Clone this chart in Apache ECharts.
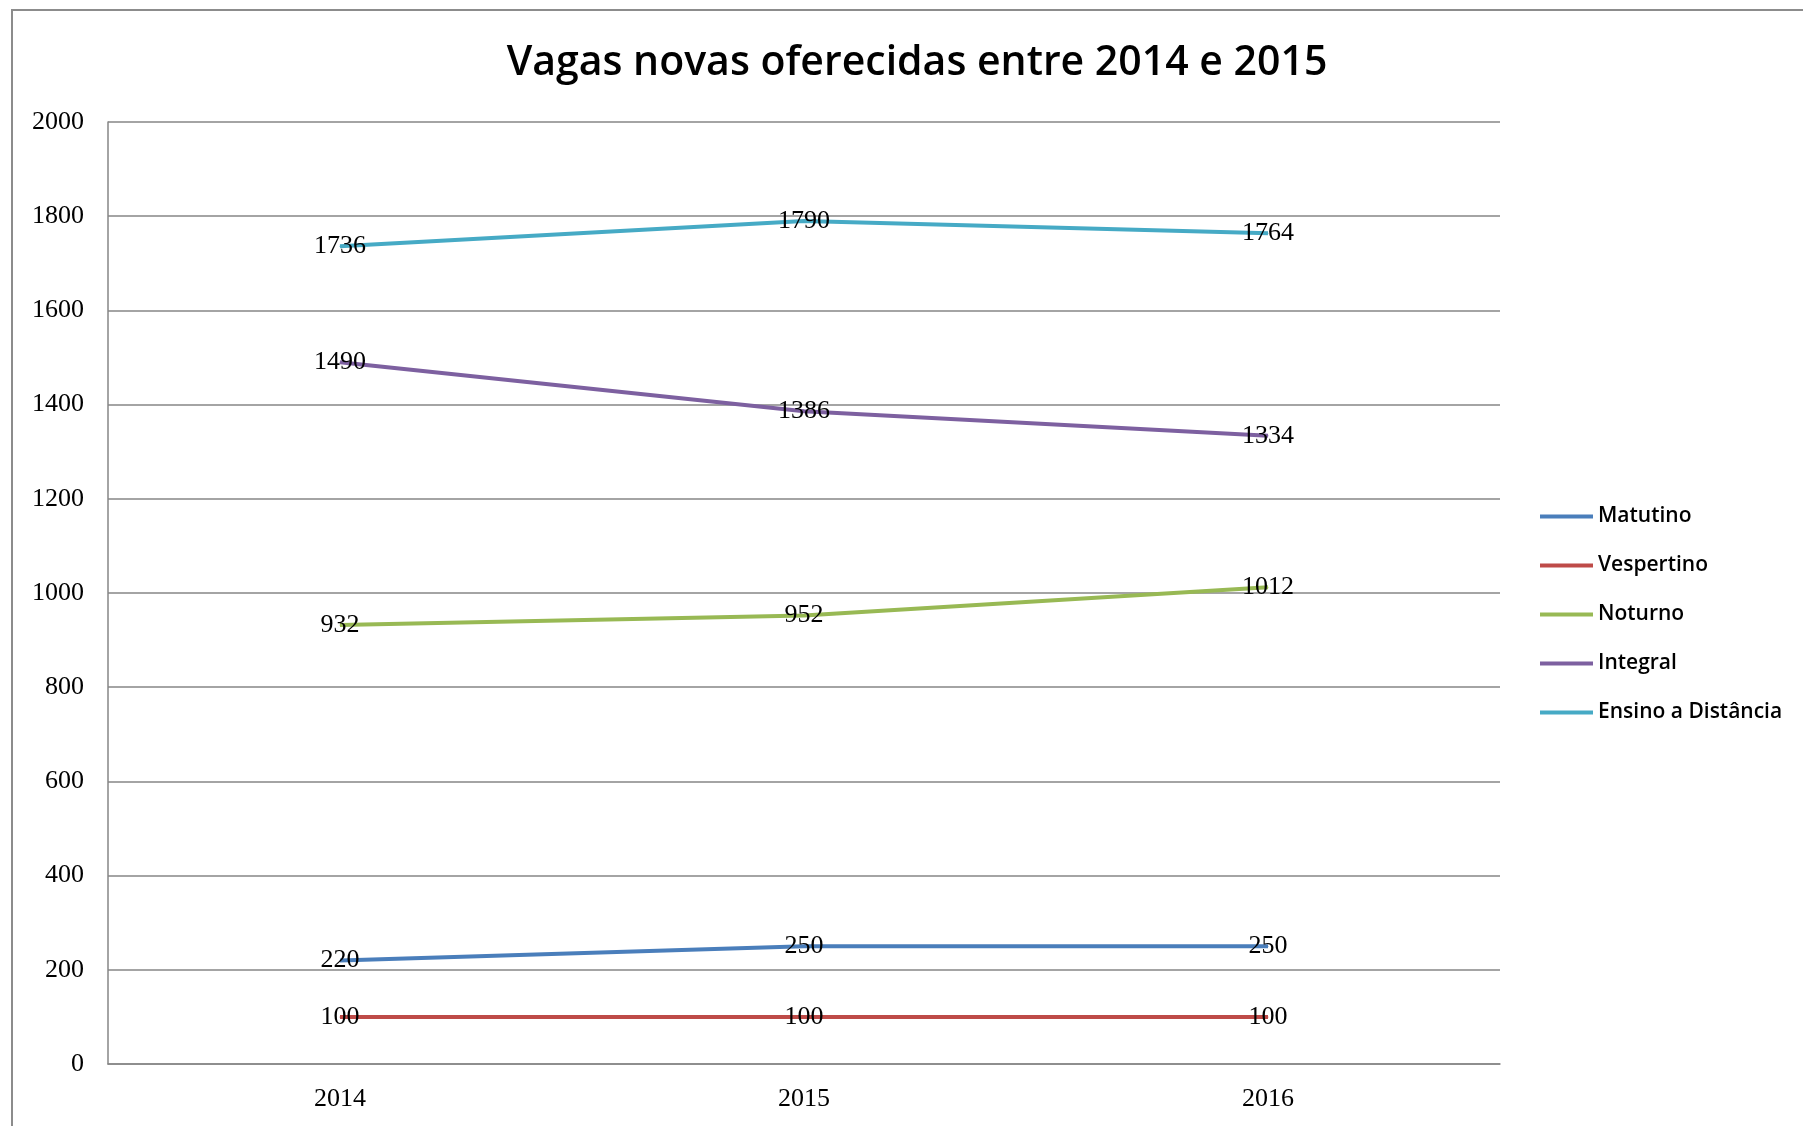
<!DOCTYPE html>
<html>
<head>
<meta charset="utf-8">
<script src="https://cdn.jsdelivr.net/npm/echarts@6/dist/echarts.min.js"></script>
<style>
  html, body { margin: 0; padding: 0; background: #fff; }
  #chart { width: 1803px; height: 1126px; }
</style>
</head>
<body>
<div id="chart"></div>
<script>
var years = ['2014', '2015', '2016']
var seriesNames = ['Matutino', 'Vespertino', 'Noturno', 'Integral', 'Ensino a Distância']
var matutino = [220, 250, 250]
var vespertino = [100, 100, 100]
var noturno = [932, 952, 1012]
var integral = [1490, 1386, 1334]
var distancia = [1736, 1790, 1764]
var colors = ['#4a7ebb', '#be4b48', '#98b954', '#7d60a0', '#46aac5']

var valueFont = 'Liberation Serif'
var chart = echarts.init(document.getElementById('chart'))

function makeSeries(name, data, color) {
  return {
    name: name,
    type: 'line',
    data: data,
    symbol: 'circle',
    symbolSize: 1,
    showSymbol: true,
    itemStyle: { color: color },
    lineStyle: { color: color, width: 4 },
    label: {
      show: true,
      position: 'inside',
      color: '#000',
      fontFamily: valueFont,
      fontSize: 26
    },
    animation: false
  }
}

chart.setOption({
  backgroundColor: '#fff',
  title: {
    text: 'Vagas novas oferecidas entre 2014 e 2015',
    left: 912,
    top: 38,
    textAlign: 'center',
    textStyle: {
      fontFamily: 'Open Sans',
      fontWeight: 600,
      fontSize: 41,
      color: '#000'
    }
  },
  graphic: [{
    type: 'rect',
    shape: { x: 12, y: 10, width: 1820, height: 1140 },
    style: { fill: null, stroke: '#8c8c8c', lineWidth: 2 },
    silent: true,
    z: -1
  }],
  legend: {
    orient: 'vertical',
    left: 1535,
    top: 501,
    itemWidth: 53,
    itemHeight: 4,
    itemGap: 28,
    icon: 'rect',
    data: seriesNames,
    textStyle: {
      fontFamily: 'Open Sans',
      fontWeight: 600,
      fontSize: 21,
      color: '#000',
      padding: [0, 0, 0, 0]
    }
  },
  grid: {
    left: 108,
    right: 303,
    top: 122,
    bottom: 62
  },
  xAxis: {
    type: 'category',
    data: years,
    boundaryGap: true,
    axisTick: { show: false },
    axisLine: { lineStyle: { color: '#868686', width: 1.5 } },
    axisLabel: {
      color: '#000',
      fontFamily: valueFont,
      fontSize: 26,
      margin: 22
    }
  },
  yAxis: {
    type: 'value',
    min: 0,
    max: 2000,
    interval: 200,
    axisTick: { show: false },
    axisLine: { show: true, lineStyle: { color: '#868686', width: 1.5 } },
    splitLine: { lineStyle: { color: '#868686', width: 1.5 } },
    axisLabel: {
      color: '#000',
      fontFamily: valueFont,
      fontSize: 26,
      margin: 24,
      formatter: function (v) { return String(v) }
    }
  },
  series: [
    makeSeries(seriesNames[0], matutino, colors[0]),
    makeSeries(seriesNames[1], vespertino, colors[1]),
    makeSeries(seriesNames[2], noturno, colors[2]),
    makeSeries(seriesNames[3], integral, colors[3]),
    makeSeries(seriesNames[4], distancia, colors[4])
  ]
})
</script>
</body>
</html>
